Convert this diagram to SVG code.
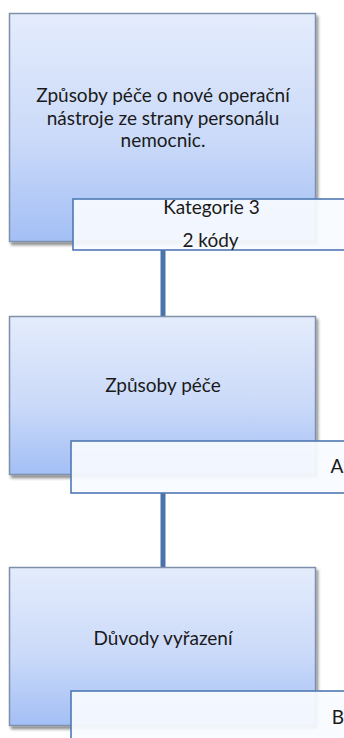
<svg xmlns="http://www.w3.org/2000/svg" width="344" height="738" viewBox="0 0 344 738">
<defs>
<linearGradient id="g" x1="0" y1="0" x2="0" y2="1">
<stop offset="0" stop-color="#e4ecfc"/>
<stop offset="0.55" stop-color="#cbdaf9"/>
<stop offset="1" stop-color="#a3bff5"/>
</linearGradient>
<filter id="sh" x="-10%" y="-10%" width="120%" height="120%">
<feGaussianBlur in="SourceAlpha" stdDeviation="1.5"/>
<feOffset dx="2" dy="3"/>
<feComponentTransfer><feFuncA type="linear" slope="0.45"/></feComponentTransfer>
<feMerge><feMergeNode/><feMergeNode in="SourceGraphic"/></feMerge>
</filter>
</defs>
<style>
.box{fill:url(#g);stroke:#7f90ab;stroke-width:1.5;filter:url(#sh)}
.lab{fill:#f8fbff;fill-opacity:0.93;stroke:#4f79b4;stroke-width:1.6}
.conn{stroke:#4a72ab;stroke-width:5;fill:none}
text{font-family:Lato,"Liberation Sans",sans-serif;font-size:19px;fill:#1a1a1a;text-anchor:middle}
</style>
<g id="connectors">
<line class="conn" x1="163" y1="250" x2="163" y2="316"/>
<line class="conn" x1="163" y1="493" x2="163" y2="567"/>
</g>
<g id="node1">
<rect class="box" x="9.5" y="13.5" width="306" height="228"/>
<text x="163" y="102">Způsoby péče o nové operační</text>
<text x="163" y="125">nástroje ze strany personálu</text>
<text x="163" y="147">nemocnic.</text>
</g>
<g id="label1">
<rect class="lab" x="73" y="199" width="280" height="51"/>
<text x="211.5" y="214">Kategorie 3</text>
<text x="210.5" y="247">2 kódy</text>
</g>
<g id="node2">
<rect class="box" x="9.5" y="316.5" width="306" height="158"/>
<text x="163" y="392">Způsoby péče</text>
</g>
<g id="label2">
<rect class="lab" x="71" y="441" width="282" height="52"/>
<text x="337" y="473">A</text>
</g>
<g id="node3">
<rect class="box" x="9.5" y="567.5" width="306" height="158"/>
<text x="163" y="645">Důvody vyřazení</text>
</g>
<g id="label3">
<rect class="lab" x="71" y="691" width="282" height="60"/>
<text x="338" y="724">B</text>
</g>
</svg>
